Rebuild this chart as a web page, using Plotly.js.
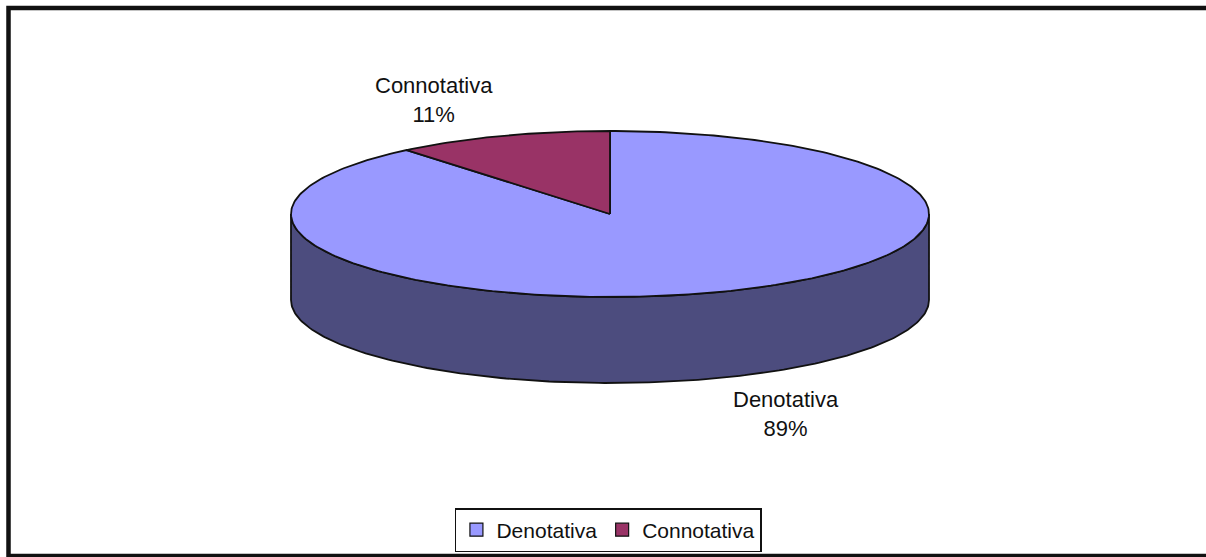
<!DOCTYPE html>
<html>
<head>
<meta charset="utf-8">
<script src="https://cdn.plot.ly/plotly-3.0.1.min.js"></script>
<style>html,body{margin:0;padding:0;background:#fff;}#chart{width:1206px;height:557px;}</style>
</head>
<body>
<div id="chart"></div>
<script>
// ---- data ----
const labels = ['Denotativa', 'Connotativa'];
const values = [89, 11];

// ---- style ----
const topColors = ['#9999FF', '#993366'];
const sideColors = ['#4C4C7E', '#4C1A33'];

// pie geometry in pixel space (axes span the page 1:1)
const cx = 610, cy = 214, rx = 319, ry = 83, depth = 86;

const total = values.reduce((a, b) => a + b, 0);
const rad = d => d * Math.PI / 180;
const px = t => cx + rx * Math.sin(rad(t));
const py = t => cy - ry * Math.cos(rad(t));

function arc(a0, a1, dy) {
  const xs = [], ys = [];
  const n = Math.max(2, Math.ceil(Math.abs(a1 - a0)));
  for (let k = 0; k <= n; k++) {
    const t = a0 + (a1 - a0) * k / n;
    xs.push(px(t)); ys.push(py(t) + dy);
  }
  return [xs, ys];
}

const traces = [];
const annotations = [];
const sides = [], tops = [];
let start = 0;
values.forEach((v, i) => {
  const a0 = start, a1 = start + 360 * v / total;
  start = a1;
  // visible side wall (front half: 90..270 deg clockwise from top)
  const s0 = Math.max(a0, 90), s1 = Math.min(a1, 270);
  if (s1 > s0) {
    const [tx, ty] = arc(s0, s1, 0);
    const [bx, by] = arc(s1, s0, depth);
    sides.push({
      type: 'scatter', mode: 'lines', x: tx.concat(bx, [tx[0]]), y: ty.concat(by, [ty[0]]),
      fill: 'toself', fillcolor: sideColors[i], line: {color: '#111', width: 1.8},
      hoverinfo: 'skip', showlegend: false
    });
  }
  // top face
  const [ax, ay] = arc(a0, a1, 0);
  tops.push({
    type: 'scatter', mode: 'lines', x: [cx].concat(ax, [cx]), y: [cy].concat(ay, [cy]),
    fill: 'toself', fillcolor: topColors[i], line: {color: '#111', width: 1.8},
    hoverinfo: 'skip', showlegend: false
  });
  // data label
  const mid = (a0 + a1) / 2;
  const c = Math.cos(rad(mid));
  annotations.push({
    x: cx + 1.63 * rx * Math.sin(rad(mid)),
    y: cy - 1.46 * ry * c + (c < 0 ? depth : 0),
    xref: 'x', yref: 'y', xanchor: 'center', yanchor: 'middle',
    text: labels[i] + '<br>' + Math.round(100 * v / total) + '%',
    showarrow: false, align: 'center',
    font: {family: 'Liberation Sans, Arial, sans-serif', size: 22, color: '#111'}
  });
});
traces.push(...sides, ...tops);

// legend entries
labels.forEach((l, i) => {
  traces.push({
    type: 'scatter', mode: 'markers', x: [null], y: [null], name: l,
    marker: {symbol: 'square', size: 13, color: topColors[i], line: {color: '#111', width: 1.2}},
    hoverinfo: 'skip', showlegend: true
  });
});

const layout = {
  width: 1206, height: 557,
  margin: {l: 0, r: 0, t: 0, b: 0},
  paper_bgcolor: '#fff', plot_bgcolor: '#fff',
  xaxis: {range: [0, 1206], visible: false, fixedrange: true},
  yaxis: {range: [557, 0], visible: false, fixedrange: true},
  showlegend: true,
  legend: {
    orientation: 'h', x: 0.5045, xanchor: 'center', y: 1 - 530 / 557, yanchor: 'middle',
    bordercolor: '#111', borderwidth: 1.5, bgcolor: '#fff',
    font: {family: 'Liberation Sans, Arial, sans-serif', size: 21, color: '#111'},
    itemclick: false, itemdoubleclick: false
  },
  annotations: annotations,
  shapes: [{
    type: 'rect', xref: 'x', yref: 'y', x0: 8.5, y0: 8, x1: 1215, y1: 556,
    line: {color: '#111', width: 4.5}, fillcolor: 'rgba(0,0,0,0)', layer: 'below'
  }]
};

Plotly.newPlot('chart', traces, layout, {staticPlot: true, displayModeBar: false});
</script>
</body>
</html>
